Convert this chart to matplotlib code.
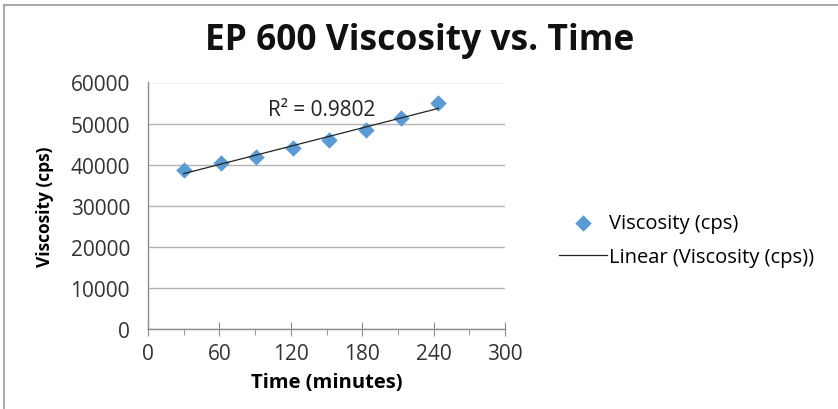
import numpy as np
import matplotlib
matplotlib.use("Agg")
import matplotlib.pyplot as plt
from matplotlib.lines import Line2D
from matplotlib.ticker import MultipleLocator

time_min = [30, 61, 91, 122, 152, 183, 213, 244]
viscosity = [38800, 40400, 41900, 44100, 46000, 48400, 51350, 55100]
xticks = [0, 60, 120, 180, 240, 300]
yticks = [0, 10000, 20000, 30000, 40000, 50000, 60000]
r2_text = "R² = 0.9802"

plt.rcParams['font.family'] = ['Open Sans', 'DejaVu Sans']

W, H = 838, 410
fig = plt.figure(figsize=(W/100, H/100), dpi=100)
ax = fig.add_axes([148/W, (H-330)/H, (505-148)/W, (330-83.5)/H])

grid_c = '#b3b3b3'
ax.set_xlim(0, 300)
ax.set_ylim(0, 60000)
ax.set_xticks(xticks)
ax.xaxis.set_minor_locator(MultipleLocator(30))
ax.set_yticks(yticks)
ax.yaxis.grid(True, color=grid_c, linewidth=1)
ax.set_axisbelow(True)
for s in ['top', 'right']:
    ax.spines[s].set_visible(False)
for s in ['left', 'bottom']:
    ax.spines[s].set_color('#8c8c8c')
    ax.spines[s].set_linewidth(1)
ax.tick_params(axis='x', which='major', direction='inout', length=10, color='#8c8c8c',
               labelsize=15, pad=5, labelcolor='#333333')
ax.tick_params(axis='x', which='minor', direction='out', length=4, color='#8c8c8c')
ax.tick_params(axis='y', which='major', length=0, labelsize=15, pad=13, labelcolor='#333333')

# data
ax.scatter(time_min, viscosity, marker='D', s=70, color='#5b9bd5', zorder=3,
           linewidths=0, label='Viscosity (cps)')
# linear trendline
coef = np.polyfit(time_min, viscosity, 1)
xs = np.array([min(time_min), max(time_min)])
ax.plot(xs, np.polyval(coef, xs), color='#222222', linewidth=0.9, zorder=4,
        label='Linear (Viscosity (cps))')

ax.text(146, 53400, r2_text, fontsize=15, color='#222222', ha='center', va='center')

ax.set_xlabel('Time (minutes)', fontsize=14.5, fontweight='bold', labelpad=6)
ax.set_ylabel('Viscosity (cps)', fontsize=12.5, fontweight='bold', labelpad=12)

fig.text(420/W, 1-41/H, 'EP 600 Viscosity vs. Time', fontsize=25.5, fontweight='bold',
         ha='center', va='center', color='#111111')

leg = fig.legend(loc='center left', bbox_to_anchor=(541/W, 1-241/H), frameon=False,
                 fontsize=14.5, handlelength=2.4, handletextpad=0.1, labelspacing=0.7)

# outer border
fig.add_artist(Line2D([4/W, 4/W], [0, 1-6/H], transform=fig.transFigure, color='#999999', lw=1.2))
fig.add_artist(Line2D([4/W, 1], [1-6/H, 1-6/H], transform=fig.transFigure, color='#999999', lw=1.2))

fig.savefig('out.png', dpi=100)
